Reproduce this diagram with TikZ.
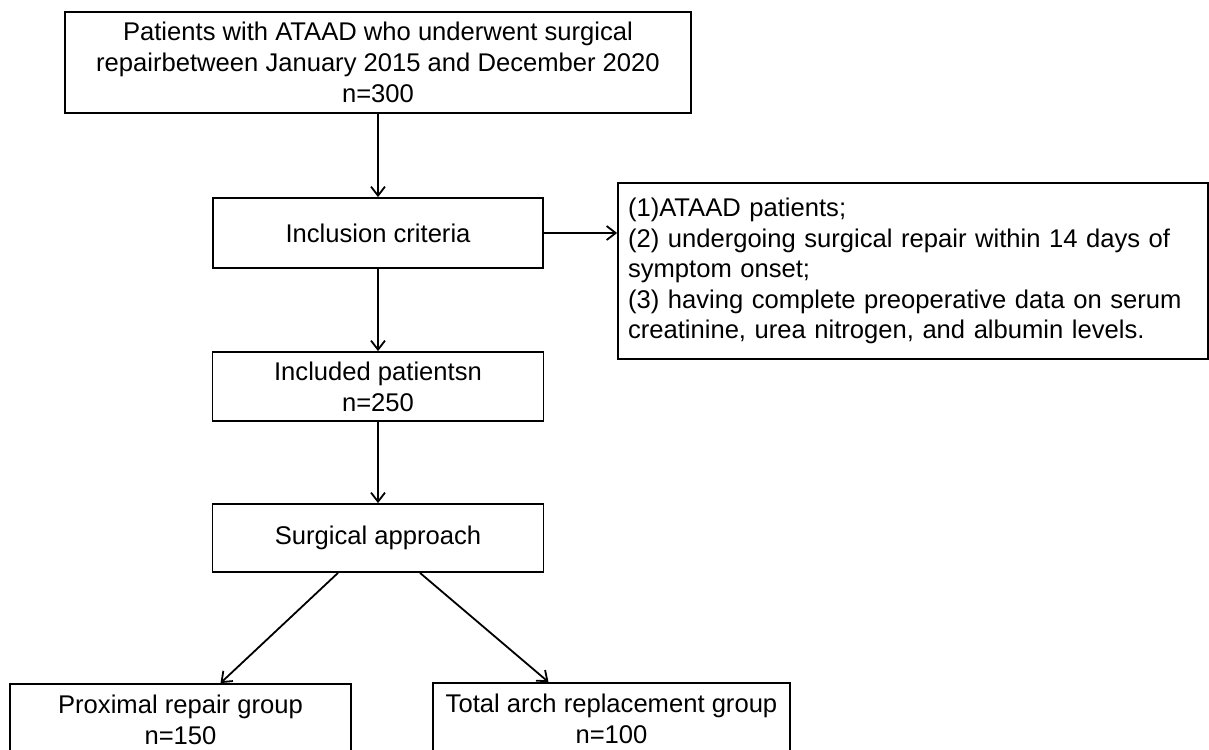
\documentclass[tikz,border=0pt]{standalone}
\usepackage{fontspec}
\setmainfont{Liberation Sans}
\usepackage{tikz}
\usetikzlibrary{shapes}
\usetikzlibrary{arrows.meta}
\usetikzlibrary{calc}
\tikzstyle{flowbox}=[rectangle, draw, inner sep=0pt, align=center]
\tikzstyle{arrow}=[->, >={Straight Barb[length=4.5pt,width=7pt]}]
\tikzset{every picture/.style={
    line width=0.9pt
  }
}

\begin{document}
\begin{tikzpicture}[x=0.5pt, y=-0.5pt, font=\fontsize{12.8}{15.4}\selectfont]
      \useasboundingbox (0,0) rectangle (1209,749);
      \clip (0,0) rectangle (1209,749);
      \node[flowbox, minimum width=313pt, minimum height=50.5pt] at (378,62.5) (source) {Patients with ATAAD who underwent surgical\\repairbetween January 2015 and December 2020\\n=300};
      \node[flowbox, minimum width=165pt, minimum height=35pt] at (378,233) (inclusion) {Inclusion criteria};
      \node[flowbox, minimum width=295pt, minimum height=88pt, text width=285pt, align=left, font=\fontsize{12.8}{15.3}\selectfont] at (913,271) (criteria) {(1)ATAAD patients;\\(2) undergoing surgical repair within 14 days of\\symptom onset;\\(3) having complete preoperative data on serum\\creatinine, urea nitrogen, and albumin levels.};
      \node[flowbox, minimum width=165.5pt, minimum height=34.5pt] at (378,386.5) (included) {Included patientsn\\n=250};
      \node[flowbox, minimum width=165.5pt, minimum height=34pt] at (378,538) (approach) {Surgical approach};
      \node[flowbox, minimum width=170.5pt, minimum height=35.5pt] at (180.5,719.5) (proximal) {Proximal repair group\\n=150};
      \node[flowbox, minimum width=178.5pt, minimum height=36pt] at (611.5,719) (totalarch) {Total arch replacement group\\n=100};
      \draw[arrow] (source.south) -- (inclusion.north);
      \draw[arrow] (inclusion.east) -- (criteria.west |- inclusion.east);
      \draw[arrow] (inclusion.south) -- (included.north);
      \draw[arrow] (included.south) -- (approach.north);
      \draw[arrow] ($(approach.south)+(-40,0)$) -- ($(proximal.north)+(40,0)$);
      \draw[arrow] ($(approach.south)+(42,0)$) -- ($(totalarch.north)+(-63,0)$);
    \end{tikzpicture}
\end{document}
